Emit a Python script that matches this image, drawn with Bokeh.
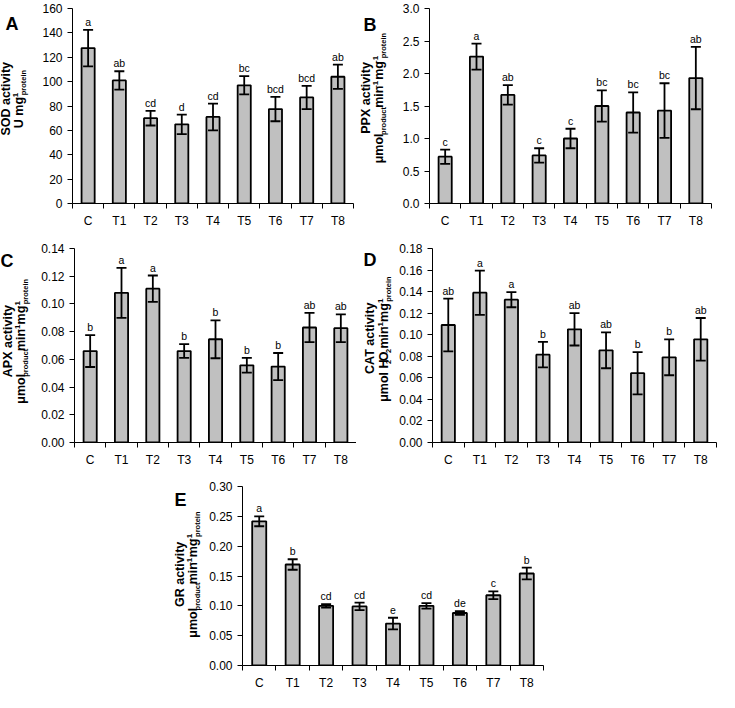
import math
from bokeh.plotting import figure
from bokeh.models import (ColumnDataSource, Range1d, FixedTicker, PrintfTickFormatter,
                          Whisker, TeeHead, Spacer)
from bokeh.layouts import row, column
from bokeh.core.properties import value
from bokeh.embed import file_html
from bokeh.resources import INLINE

# ---------------- data ----------------
categories = ["C", "T1", "T2", "T3", "T4", "T5", "T6", "T7", "T8"]

sod_mean = [127.5, 101.0, 70.0, 65.0, 71.0, 97.0, 77.5, 87.0, 104.0]
sod_err = [15.0, 7.5, 6.0, 8.0, 11.0, 7.5, 10.0, 9.5, 10.0]
sod_letters = ["a", "ab", "cd", "d", "cd", "bc", "bcd", "bcd", "ab"]
sod_ticks = [0, 20, 40, 60, 80, 100, 120, 140, 160]

ppx_mean = [0.72, 2.26, 1.67, 0.74, 1.00, 1.50, 1.40, 1.43, 1.93]
ppx_err = [0.11, 0.20, 0.15, 0.11, 0.15, 0.24, 0.31, 0.42, 0.48]
ppx_letters = ["c", "a", "ab", "c", "c", "bc", "bc", "bc", "ab"]
ppx_ticks = [0.0, 0.5, 1.0, 1.5, 2.0, 2.5, 3.0]

apx_mean = [0.066, 0.108, 0.111, 0.066, 0.0745, 0.0557, 0.0548, 0.083, 0.0825]
apx_err = [0.0115, 0.018, 0.0095, 0.005, 0.0137, 0.0053, 0.0098, 0.0105, 0.010]
apx_letters = ["b", "a", "a", "b", "b", "b", "b", "ab", "ab"]
apx_ticks = [0.0, 0.02, 0.04, 0.06, 0.08, 0.10, 0.12, 0.14]

cat_mean = [0.109, 0.139, 0.1325, 0.0815, 0.105, 0.0855, 0.0643, 0.079, 0.0957]
cat_err = [0.0245, 0.0205, 0.007, 0.0118, 0.015, 0.0166, 0.0196, 0.0166, 0.0198]
cat_letters = ["ab", "a", "a", "b", "ab", "ab", "b", "b", "ab"]
cat_ticks = [0.0, 0.02, 0.04, 0.06, 0.08, 0.10, 0.12, 0.14, 0.16, 0.18]

gr_mean = [0.2417, 0.1693, 0.100, 0.099, 0.0703, 0.100, 0.088, 0.1177, 0.1542]
gr_err = [0.0083, 0.0088, 0.003, 0.0063, 0.0097, 0.0047, 0.003, 0.0065, 0.0099]
gr_letters = ["a", "b", "cd", "cd", "e", "cd", "de", "c", "b"]
gr_ticks = [0.0, 0.05, 0.10, 0.15, 0.20, 0.25, 0.30]

FONT = "Liberation Sans"

# Liberation Sans Bold advance widths (per 1000 em)
BW = {" ": 278, "-": 333, "1": 556, "2": 556, "A": 722, "C": 722, "D": 722, "G": 778,
      "H": 722, "O": 778, "P": 667, "R": 722, "S": 667, "T": 611, "U": 722, "X": 667,
      "a": 556, "c": 556, "d": 611, "e": 556, "g": 611, "i": 278, "l": 278, "m": 889,
      "n": 611, "o": 611, "p": 611, "r": 389, "t": 333, "u": 611, "v": 556, "y": 556,
      "\u03bc": 611}


def tw(s, size):
    return sum(BW.get(ch, 556) for ch in s) * size / 1000.0


SIZES = {"n": 12.5, "sup": 8.0, "sub": 7.5}
SHIFT = {"n": 0, "sup": -5, "sub": 3}


def add_title_line(t, pieces, base_x, y_center):
    """Rotated (bottom-to-top) rich text; each piece is centred on its own slot."""
    total = sum(tw(s, SIZES[k]) for s, k in pieces)
    y = y_center - total / 2.0
    for s, k in pieces:
        size = SIZES[k]
        lead = len(s) - len(s.lstrip(" "))
        y += lead * tw(" ", size)
        core = s.strip(" ")
        w = tw(core, size)
        t.text(x=[base_x + SHIFT[k] - 0.35 * size], y=[y + w / 2.0], text=[core],
               angle=math.pi / 2, text_font=value(FONT),
               text_font_size=value(f"{size}px"), text_font_style="bold",
               text_color="black", text_align="center", text_baseline="middle")
        y += w
        trail = len(s) - len(s.rstrip(" "))
        y += trail * tw(" ", size)


def make_panel(letter, means, errs, letters, yticks, fmt, line1, line2,
               width, height, left, right, top, bottom, t1x, t2x, lx, ly, tw_px):
    """Returns (title_figure, plot_figure). width/left are for the combined pair."""
    n = len(categories)
    fh = height - top - bottom

    # --- narrow figure holding the panel letter and rotated y-axis title ---
    t = figure(width=tw_px, height=height, output_backend="svg", toolbar_location=None,
               x_range=Range1d(0, tw_px), y_range=Range1d(0, height),
               x_axis_location=None, y_axis_location=None,
               min_border=0, min_border_left=0, min_border_right=0,
               min_border_top=0, min_border_bottom=0)
    t.grid.visible = False
    t.outline_line_color = None
    t.background_fill_color = "white"
    t.border_fill_color = "white"
    yc = bottom + fh / 2.0
    add_title_line(t, line1, left + t1x, yc)
    add_title_line(t, line2, left + t2x, yc)
    t.text(x=[left + lx], y=[bottom + ly], text=[letter], text_font=value(FONT),
           text_font_size=value("18px"), text_font_style="bold", text_color="black",
           text_align="left", text_baseline="alphabetic")

    # --- the bar chart itself ---
    p = figure(width=width - tw_px, height=height, output_backend="svg",
               toolbar_location=None,
               x_range=Range1d(0, n), y_range=Range1d(yticks[0], yticks[-1]),
               min_border_left=left - tw_px, min_border_right=right,
               min_border_top=top, min_border_bottom=bottom)
    p.outline_line_color = None
    p.grid.visible = False
    p.background_fill_color = "white"
    p.border_fill_color = "white"

    xs = [i + 0.5 for i in range(n)]
    src = ColumnDataSource(dict(
        x=xs, mean=means,
        upper=[m + e for m, e in zip(means, errs)],
        lower=[m - e for m, e in zip(means, errs)],
        letters=letters))

    p.vbar(x="x", top="mean", bottom=0, width=0.42, source=src,
           fill_color="#c0c0c0", line_color="black", line_width=1.8)
    wh = Whisker(source=src, base="x", upper="upper", lower="lower", dimension="height",
                 line_color="black", line_width=1.8, level="overlay",
                 upper_head=TeeHead(size=10, line_color="black", line_width=1.8),
                 lower_head=TeeHead(size=10, line_color="black", line_width=1.8))
    p.add_layout(wh)
    p.text(x="x", y="upper", text="letters", source=src, text_font=value(FONT),
           text_font_size=value("10.5px"), text_align="center",
           text_baseline="alphabetic", y_offset=-8, text_color="black")

    # x axis: labels at category centres, ticks between categories
    xa = p.xaxis[0]
    xa.ticker = FixedTicker(ticks=xs, minor_ticks=list(range(n + 1)))
    xa.major_label_overrides = {x: c for x, c in zip(xs, categories)}
    xa.major_tick_out = 0
    xa.major_tick_in = 0
    xa.minor_tick_out = 5
    xa.minor_tick_in = 0
    xa.minor_tick_line_color = "black"
    xa.axis_line_color = "black"
    xa.axis_line_width = 1
    xa.major_label_standoff = 5
    xa.major_label_text_font = FONT
    xa.major_label_text_font_size = "12px"
    xa.major_label_text_color = "black"

    ya = p.yaxis[0]
    ya.ticker = FixedTicker(ticks=yticks)
    ya.formatter = PrintfTickFormatter(format=fmt)
    ya.major_tick_out = 5
    ya.major_tick_in = 0
    ya.minor_tick_out = 0
    ya.minor_tick_in = 0
    ya.major_tick_line_color = "black"
    ya.axis_line_color = "black"
    ya.axis_line_width = 1
    ya.major_label_standoff = 5
    ya.major_label_text_font = FONT
    ya.major_label_text_font_size = "12px"
    ya.major_label_text_color = "black"
    return t, p


umol_line = [("\u03bcmol ", "n"), ("product", "sub"), (" min", "n"), ("-1", "sup"),
             (" mg", "n"), ("-1", "sup"), ("protein", "sub")]

tA, pA = make_panel("A", sod_mean, sod_err, sod_letters, sod_ticks, "%d",
                    [("SOD activity", "n")], [("U mg", "n"), ("-1", "sup"), ("protein", "sub")],
                    width=356, height=230, left=72, right=3, top=8, bottom=25,
                    t1x=-62, t2x=-49, lx=-67, ly=187, tw_px=38)
tB, pB = make_panel("B", ppx_mean, ppx_err, ppx_letters, ppx_ticks, "%.1f",
                    [("PPX activity", "n")], umol_line,
                    width=363, height=230, left=73, right=8, top=8, bottom=27,
                    t1x=-59, t2x=-46, lx=-66, ly=184, tw_px=38)
tC, pC = make_panel("C", apx_mean, apx_err, apx_letters, apx_ticks, "%.2f",
                    [("APX activity", "n")], umol_line,
                    width=356, height=242, left=74, right=0, top=18, bottom=29,
                    t1x=-62, t2x=-49, lx=-74, ly=197, tw_px=38)
tD, pD = make_panel("D", cat_mean, cat_err, cat_letters, cat_ticks, "%.2f",
                    [("CAT activity", "n")],
                    [("\u03bcmol H", "n"), ("2", "sub"), ("O", "n"), ("2", "sub"), (" min", "n"),
                     ("-1", "sup"), (" mg", "n"), ("-1", "sup"), ("protein", "sub")],
                    width=363, height=242, left=76, right=3, top=12, bottom=30,
                    t1x=-58, t2x=-44, lx=-69, ly=198, tw_px=40)
tE, pE = make_panel("E", gr_mean, gr_err, gr_letters, gr_ticks, "%.2f",
                    [("GR activity", "n")], umol_line,
                    width=383, height=220, left=72, right=10, top=14, bottom=18,
                    t1x=-58, t2x=-45, lx=-68, ly=185, tw_px=36)

layout = column(row(tA, pA, tB, pB),
                row(tC, pC, tD, pD),
                row(Spacer(width=170, height=220), tE, pE))

open("out.html", "w").write(file_html(layout, INLINE))
